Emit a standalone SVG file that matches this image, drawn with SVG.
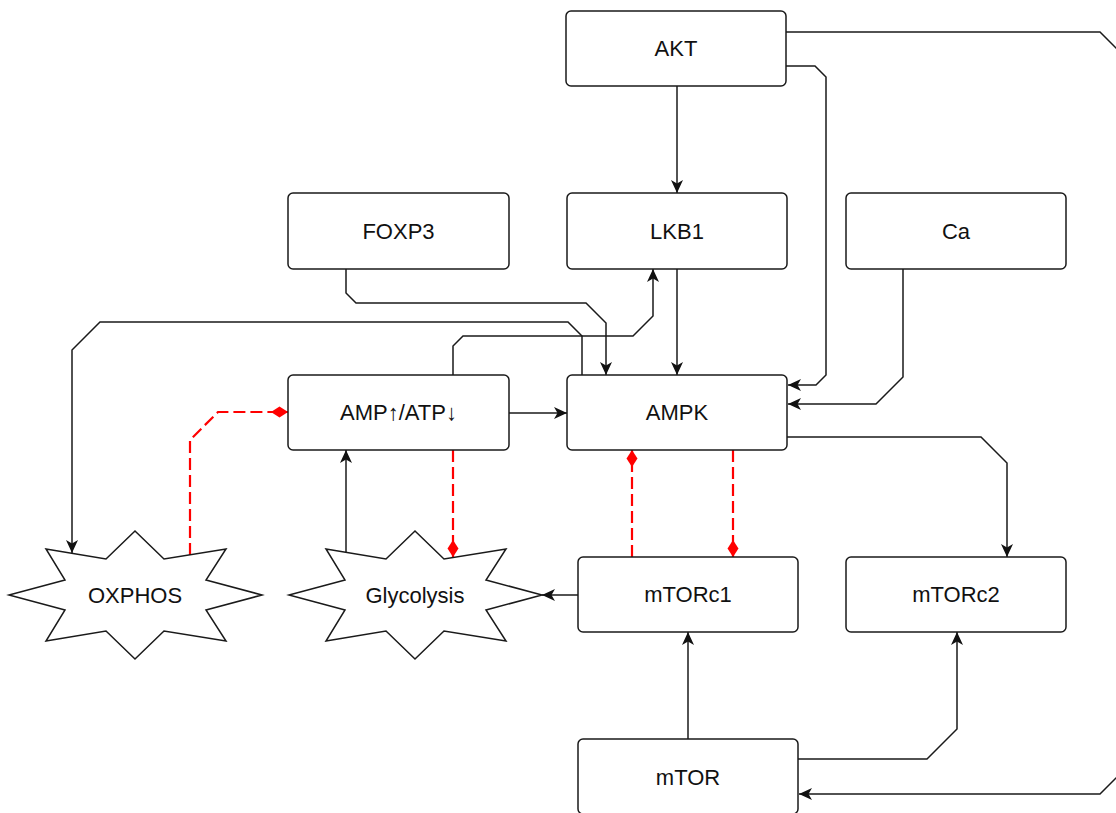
<svg xmlns="http://www.w3.org/2000/svg" width="1116" height="813" viewBox="0 0 1116 813">
<defs>
<style>
.box{fill:#fff;stroke:#1a1a1a;stroke-width:1.5}
.star{fill:#fff;stroke:#1a1a1a;stroke-width:1.5;stroke-linejoin:miter}
.lbl{font-family:"Liberation Sans",Arial,sans-serif;font-size:22px;fill:#111;text-anchor:middle}
.c{fill:none;stroke:#1a1a1a;stroke-width:1.5;marker-end:url(#arr)}
.r{fill:none;stroke:#f00;stroke-width:2.2;stroke-dasharray:12 5;marker-end:url(#dia)}
</style>
<marker id="arr" markerUnits="userSpaceOnUse" markerWidth="14" markerHeight="12" refX="13" refY="6" orient="auto">
<path d="M0,0 L13,6 L0,12 L3.5,6 Z" fill="#111" stroke="none"/>
</marker>
<marker id="dia" markerUnits="userSpaceOnUse" markerWidth="18" markerHeight="12" refX="17" refY="6" orient="auto">
<path d="M0,6 L8.5,0.5 L17,6 L8.5,11.5 Z" fill="#f00" stroke="none"/>
</marker>
</defs>

<g id="connectors">
<path class="c" d="M677,86 V193"/>
<path class="c" d="M786,66 H815 L826,77 V375 L816,385 H788"/>
<path class="c" d="M903,269 V377 L876,404 H788"/>
<path class="c" d="M786,32 H1100 L1124,56 V770 L1100,794 H799"/>
<path class="c" d="M677,269 V375"/>
<path class="c" d="M346,269 V293 L356,303 H586 L606,323 V375"/>
<path class="c" d="M582,375 V336 L568,322 H100 L72,350 V553"/>
<path class="c" d="M453,375 V346 L463,336 H633 L653,316 V269"/>
<path class="c" d="M509,413 H567"/>
<path class="c" d="M346,552 V450"/>
<path class="c" d="M578,595 H542"/>
<path class="c" d="M688,739 V632"/>
<path class="c" d="M798,759 H927 L957,729 V632"/>
<path class="c" d="M787,437 H981 L1007,463 V557"/>
<path class="r" d="M632,557 V450"/>
<path class="r" d="M733,450 V557"/>
<path class="r" d="M453,450 V557"/>
<path class="r" d="M190,555 V440 L218,412 H288"/>
</g>

<g id="AKT"><rect class="box" x="566" y="11" width="220" height="75" rx="5"/><text class="lbl" x="676" y="56">AKT</text></g>
<g id="FOXP3"><rect class="box" x="288" y="193" width="221" height="76" rx="5"/><text class="lbl" x="398.5" y="239">FOXP3</text></g>
<g id="LKB1"><rect class="box" x="567" y="193" width="220" height="76" rx="5"/><text class="lbl" x="677" y="239">LKB1</text></g>
<g id="Ca"><rect class="box" x="846" y="193" width="220" height="76" rx="5"/><text class="lbl" x="956" y="239">Ca</text></g>
<g id="AMPATP"><rect class="box" x="288" y="375" width="221" height="75" rx="5"/><text class="lbl" x="398.5" y="420">AMP↑/ATP↓</text></g>
<g id="AMPK"><rect class="box" x="567" y="375" width="220" height="75" rx="5"/><text class="lbl" x="677" y="420">AMPK</text></g>
<g id="mTORc1"><rect class="box" x="578" y="557" width="220" height="75" rx="5"/><text class="lbl" x="688" y="602">mTORc1</text></g>
<g id="mTORc2"><rect class="box" x="846" y="557" width="220" height="75" rx="5"/><text class="lbl" x="956" y="602">mTORc2</text></g>
<g id="mTOR"><rect class="box" x="578" y="739" width="220" height="75" rx="5"/><text class="lbl" x="688" y="785">mTOR</text></g>
<g id="OXPHOS"><polygon class="star" points="46,549 106,559 135,531 164,559 226,549 206,580 262,595 206,610 226,641 164,631 135,659 106,631 46,641 65,610 9,595 65,580"/><text class="lbl" x="135" y="603">OXPHOS</text></g>
<g id="Glycolysis"><polygon class="star" points="326,549 386,559 415,531 444,559 506,549 486,580 542,595 486,610 506,641 444,631 415,659 386,631 326,641 345,610 289,595 345,580"/><text class="lbl" x="415" y="603">Glycolysis</text></g>
</svg>
